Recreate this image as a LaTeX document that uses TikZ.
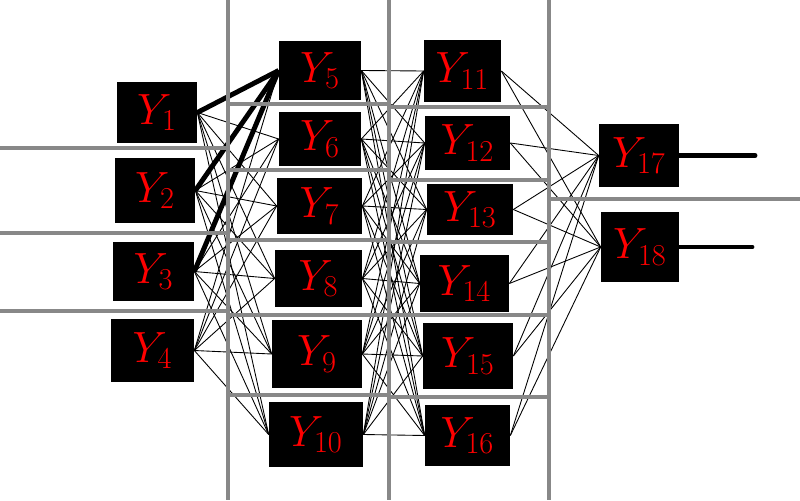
\documentclass[tikz,border=0pt]{standalone}
\usepackage{tikz}
\definecolor{gridgray}{HTML}{888888}

\begin{document}
\begin{tikzpicture}[
  x=0.02cm, y=-0.02cm,
  neuron/.style={rectangle, fill=black, text=red, inner sep=0pt, font=\fontsize{24}{24}\selectfont},
  link/.style={line width=0.5pt},
  heavylink/.style={line width=2.8pt},
  outlink/.style={line width=2.8pt, line cap=round},
  gridline/.style={draw=gridgray, line width=2.5pt}
]
\useasboundingbox (0,0) rectangle (800,500);

% Input layer
\node[neuron, minimum width=1.6cm, minimum height=1.22cm] (y1) at (157,112.5) {$Y_{1}$};
\node[neuron, minimum width=1.6cm, minimum height=1.3cm] (y2) at (155,190.5) {$Y_{2}$};
\node[neuron, minimum width=1.62cm, minimum height=1.18cm] (y3) at (153.5,271.5) {$Y_{3}$};
\node[neuron, minimum width=1.66cm, minimum height=1.26cm] (y4) at (152.5,350.5) {$Y_{4}$};

% Second layer
\node[neuron, minimum width=1.64cm, minimum height=1.18cm] (y5) at (320,70.5) {$Y_{5}$};
\node[neuron, minimum width=1.64cm, minimum height=1.08cm] (y6) at (320,139) {$Y_{6}$};
\node[neuron, minimum width=1.7cm, minimum height=1.12cm] (y7) at (319.5,206) {$Y_{7}$};
\node[neuron, minimum width=1.74cm, minimum height=1.14cm] (y8) at (318.5,278.5) {$Y_{8}$};
\node[neuron, minimum width=1.8cm, minimum height=1.36cm] (y9) at (317,354) {$Y_{9}$};
\node[neuron, minimum width=1.88cm, minimum height=1.3cm] (y10) at (316,434.5) {$Y_{10}$};

% Third layer
\node[neuron, minimum width=1.54cm, minimum height=1.24cm] (y11) at (462.5,71) {$Y_{11}$};
\node[neuron, minimum width=1.7cm, minimum height=1.08cm] (y12) at (467.5,143) {$Y_{12}$};
\node[neuron, minimum width=1.72cm, minimum height=1.02cm] (y13) at (470,209.5) {$Y_{13}$};
\node[neuron, minimum width=1.78cm, minimum height=1.14cm] (y14) at (464.5,283.5) {$Y_{14}$};
\node[neuron, minimum width=1.8cm, minimum height=1.32cm] (y15) at (468,356) {$Y_{15}$};
\node[neuron, minimum width=1.7cm, minimum height=1.22cm] (y16) at (467.5,435.5) {$Y_{16}$};

% Output layer
\node[neuron, minimum width=1.6cm, minimum height=1.26cm] (y17) at (639,155.5) {$Y_{17}$};
\node[neuron, minimum width=1.56cm, minimum height=1.4cm] (y18) at (640,247) {$Y_{18}$};
\coordinate (out17) at (755,155.5);
\coordinate (out18) at (752,247);

% Links
\foreach \a in {1,...,4}
  \foreach \b in {5,...,10}
    \draw[link] (y\a.east) -- (y\b.west);
\foreach \a in {5,...,10}
  \foreach \b in {11,...,16}
    \draw[link] (y\a.east) -- (y\b.west);
\foreach \a in {11,...,16}
  \foreach \b in {17,18}
    \draw[link] (y\a.east) -- (y\b.west);

\draw[heavylink] (y5.west) -- (y1.east);
\draw[heavylink] (y5.west) -- (y2.east);
\draw[heavylink] (y5.west) -- (y3.east);

\draw[outlink] (y17.east) -- (out17);
\draw[outlink] (y18.east) -- (out18);

% Grid
\foreach \x in {228,389,549}
  \draw[gridline] (\x,0) -- (\x,500);
\foreach \y in {148,233,311}
  \draw[gridline] (0,\y) -- (228,\y);
\foreach \y in {104,170,240,315,395}
  \draw[gridline] (228,\y) -- (389,\y);
\foreach \y in {107,180,242,315,397}
  \draw[gridline] (389,\y) -- (549,\y);
\draw[gridline] (549,199) -- (800,199);

\end{tikzpicture}
\end{document}
